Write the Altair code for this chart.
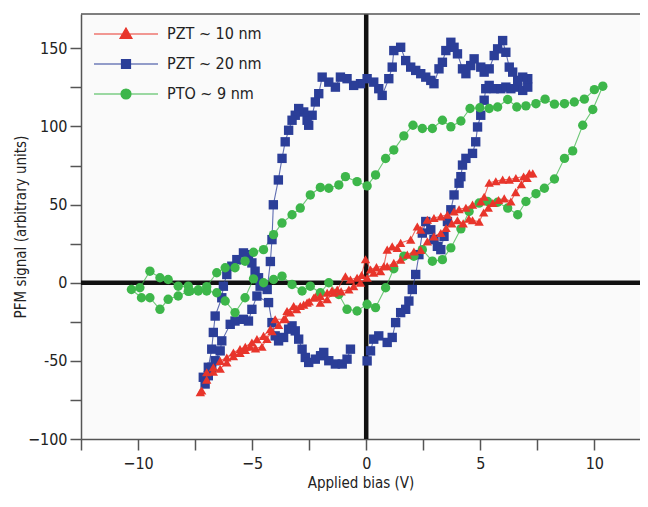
import altair as alt
import pandas as pd

FONT = "Liberation Sans Narrow, DejaVu Sans Condensed, Liberation Sans, sans-serif"

SERIES = ["PZT ~ 10 nm", "PZT ~ 20 nm", "PTO ~ 9 nm"]
MARK_COLORS = ["#e8352b", "#2b3e98", "#3db64a"]
SHAPES = ["triangle-up", "square", "circle"]

X_TICKS = [-12.5, -10, -7.5, -5, -2.5, 0, 2.5, 5, 7.5, 10]
Y_TICKS = [-100, -75, -50, -25, 0, 25, 50, 75, 100, 125, 150]

# PZT ~ 20 nm (bias V, PFM signal)
pzt20 = [
    (0.04, -50), (0.19, -43.6), (0.33, -36.1), (0.55, -34.0), (0.92, -38.2), (1.14, -35.0),
    (1.29, -25.5), (1.51, -19.1), (1.73, -17.0), (1.87, -11.7), (2.02, -4.3), (2.17, 5.3),
    (2.31, 18.0), (2.46, 31.8), (2.61, 39.2), (2.83, 33.9), (2.97, 27.6), (3.12, 23.3),
    (3.27, 21.2), (3.41, 29.7), (3.56, 39.2), (3.71, 46.7), (3.85, 56.2), (4.07, 63.7),
    (4.15, 67.9), (4.22, 75.3), (4.37, 79.6), (4.66, 82.8), (4.80, 90.2), (4.88, 99.7),
    (5.02, 107.2), (5.17, 116.8), (5.24, 124.2), (5.39, 126.3), (5.61, 124.2), (5.90, 124.2),
    (6.12, 125.2), (6.34, 124.2), (6.64, 125.2), (6.86, 123.1), (7.08, 125.2), (7.08, 130.6),
    (6.86, 131.6), (6.64, 129.5), (6.42, 134.8), (6.27, 138.0), (6.12, 147.5), (5.98, 155.0),
    (5.76, 149.7), (5.61, 145.4), (5.39, 136.9), (5.17, 134.8), (5.02, 138.0), (4.73, 143.3),
    (4.58, 139.0), (4.37, 133.8), (4.22, 136.9), (4.00, 146.5), (3.85, 150.7), (3.71, 153.9),
    (3.49, 148.6), (3.34, 141.1), (3.19, 136.9), (2.97, 127.4), (2.83, 129.5), (2.61, 131.6),
    (2.39, 133.8), (2.17, 135.9), (1.95, 138.0), (1.73, 142.2), (1.51, 150.7), (1.21, 148.6),
    (1.14, 138.0), (0.99, 130.6), (0.70, 119.9), (0.55, 124.2), (0.33, 128.4), (0.04, 130.6),
    (-0.25, 127.4), (-0.55, 126.3), (-0.84, 130.6), (-1.13, 131.6), (-1.35, 125.2), (-1.64, 128.4),
    (-1.93, 131.6), (-2.08, 121.0), (-2.23, 115.7), (-2.37, 107.2), (-2.52, 100.8), (-2.59, 104.0),
    (-2.74, 109.3), (-2.96, 111.5), (-3.11, 107.2), (-3.25, 104.0), (-3.40, 97.6), (-3.55, 90.2),
    (-3.69, 79.6), (-3.85, 65.8), (-4.07, 49.9), (-4.13, 27.6), (-4.20, 13.6), (-4.34, -4.3),
    (-4.65, -2.2), (-4.72, 3.2), (-4.87, 7.4), (-5.01, 12.7), (-5.16, 18.0), (-5.38, 19.1),
    (-5.67, 14.8), (-5.89, 10.6), (-6.11, 5.3), (-6.26, -2.2), (-6.33, -9.6), (-6.62, -21.3),
    (-6.70, -31.8), (-6.77, -42.5), (-6.92, -54.1), (-7.14, -60.5), (-7.06, -64.8), (-6.92, -59.5),
    (-6.77, -54.1), (-6.62, -49.9), (-6.40, -43.6), (-6.33, -37.2), (-5.96, -26.6), (-5.75, -24.5),
    (-5.38, -23.4), (-5.16, -24.5), (-5.01, -17.0), (-4.79, -8.5), (-4.28, -12.7), (-4.13, -25.5),
    (-3.99, -34.0), (-3.84, -37.2), (-3.62, -35.0), (-3.40, -29.7), (-3.25, -27.6), (-3.11, -30.8),
    (-2.96, -36.1), (-2.81, -42.5), (-2.67, -47.8), (-2.52, -51.0), (-2.23, -48.9), (-2.00, -46.7),
    (-1.86, -44.6), (-1.64, -49.9), (-1.35, -52.0), (-1.05, -52.0), (-0.84, -48.9), (-0.69, -42.5),
]

# PZT ~ 10 nm
pzt10 = [
    (-7.27, -70), (-6.99, -62), (-6.70, -57), (-6.40, -55), (-6.11, -51), (-5.82, -47),
    (-5.53, -45), (-5.30, -43), (-5.09, -41), (-4.85, -42), (-4.57, -41), (-4.35, -36),
    (-4.13, -31), (-3.84, -27), (-3.55, -23), (-3.33, -19), (-3.05, -17), (-2.74, -14),
    (-2.50, -12), (-2.23, -9), (-2.01, -12.7), (-1.71, -10.6), (-1.42, -6.4), (-1.10, -5.5),
    (-0.76, -4.3), (-0.55, -2.2), (-0.25, 0), (0.04, 3.2), (0.33, 6.4), (0.63, 7.4),
    (0.92, 10.6), (1.21, 12.7), (1.51, 14.8), (1.80, 18), (2.09, 20), (2.39, 21),
    (2.68, 26.5), (2.97, 29.7), (3.27, 31.8), (3.50, 35), (3.75, 38), (4.00, 40),
    (4.25, 38), (4.50, 41), (4.66, 40), (4.95, 39), (5.15, 45), (5.35, 48),
    (5.55, 51), (5.80, 53), (6.05, 54), (6.34, 52), (6.55, 58), (6.80, 63),
    (7.05, 67), (7.30, 70),
    (7.15, 70), (6.90, 68), (6.56, 67), (6.27, 66), (5.98, 66), (5.68, 65),
    (5.39, 64), (5.17, 55), (5.02, 52), (4.66, 50), (4.37, 48), (4.07, 47),
    (3.85, 45.6), (3.56, 43.5), (3.27, 42.5), (2.97, 41.4), (2.68, 40.3), (2.39, 33.9),
    (2.24, 36), (1.95, 27.6), (1.51, 25.5), (1.36, 22.3), (1.14, 23.3), (0.92, 21.2),
    (0.77, 10.6), (0.45, 10), (0.19, 8.5), (-0.03, 15), (-0.20, 5), (-0.40, 3.2),
    (-0.69, 2.1), (-0.91, 4.2), (-1.27, -4.3), (-1.50, -5), (-1.71, -6.4), (-2.01, -8.5),
    (-2.30, -9.6), (-2.59, -12.7), (-2.89, -14.9), (-3.18, -14.9), (-3.47, -18.1), (-3.62, -23.4),
    (-3.99, -23.4), (-4.20, -29.7), (-4.50, -34), (-4.79, -36.1), (-5.01, -38.2), (-5.30, -41),
    (-5.53, -42.5), (-5.82, -44.6), (-6.11, -47.8), (-6.40, -50), (-6.70, -54.1), (-6.99, -57.3),
    (-7.21, -69),
]

# PTO ~ 9 nm
pto9 = [
    (-10.29, -4.3), (-9.85, -9.6), (-9.48, -9.6), (-9.04, -17), (-8.68, -10.6), (-8.24, -8.5),
    (-7.80, -5.5), (-7.36, -5.3), (-6.99, -5.3), (-6.55, -6.4), (-6.18, -11.7), (-5.75, -19.1),
    (-5.31, -9.6), (-4.94, 2.5), (-4.50, 0), (-4.06, 2.1), (-3.69, 4.2), (-3.25, -1.1),
    (-2.81, -5.3), (-2.45, -2.2), (-2.01, -6.4), (-1.64, 0), (-1.20, -7.5), (-0.84, -17),
    (-0.40, -18.1), (0.04, -13.8), (0.41, -15.9), (0.85, -3.2), (1.21, 9), (1.65, 17),
    (2.09, 17), (2.46, 21.2), (2.90, 13.8), (3.34, 14.8), (3.71, 22.3), (4.15, 34.5),
    (4.51, 45.6), (4.95, 51), (5.32, 52), (5.76, 51.5), (6.20, 47.8), (6.64, 43.5),
    (7.00, 52), (7.44, 57), (7.81, 60.5), (8.25, 66.4), (8.69, 79.6), (9.05, 84.4),
    (9.49, 100.8), (9.93, 110.9), (10.37, 125.8),
    (10.00, 123.6), (9.56, 117.5), (9.12, 115.7), (8.69, 114.6), (8.25, 114.3), (7.84, 117.5),
    (7.44, 114.6), (7.00, 113.2), (6.60, 112.5), (6.20, 117.3), (5.76, 112.5), (5.39, 111.5),
    (4.98, 112), (4.55, 111.5), (4.15, 103.5), (3.71, 99.8), (3.34, 104), (2.90, 98.7),
    (2.46, 98.7), (2.05, 100.8), (1.65, 94), (1.21, 85), (0.85, 79.5), (0.41, 69),
    (0.04, 62), (-0.40, 64.7), (-0.91, 67.9), (-1.20, 62.6), (-1.64, 60.5), (-2.01, 61),
    (-2.45, 56.2), (-2.89, 47.8), (-3.25, 43.5), (-3.69, 38.2), (-4.06, 30.8), (-4.50, 21.2),
    (-4.94, 19.5), (-5.31, 13.8), (-5.75, 9.6), (-6.18, 9.6), (-6.55, 6.4), (-6.99, -2.5),
    (-7.36, -4.5), (-7.72, -5.3), (-7.80, -2.2), (-8.24, -2.2), (-8.68, 2.1), (-9.04, 3.2),
    (-9.48, 7.4), (-9.92, -3.2),
]

rows = []
for name, pts in (("PZT ~ 20 nm", pzt20), ("PTO ~ 9 nm", pto9), ("PZT ~ 10 nm", pzt10)):
    for i, (bx, sy) in enumerate(pts):
        rows.append({"bias": bx, "signal": sy, "series": name, "order": i})
df = pd.DataFrame(rows)

W, H = 559, 425
X_DOMAIN = [-12.5, 12.0]
Y_DOMAIN = [-100, 172]

x_axis = alt.Axis(
    values=X_TICKS, labelExpr="datum.value % 5 == 0 ? datum.label : ''",
    tickSize=11, tickWidth=1.5, tickColor="#555", domainColor="#555", domainWidth=1.5,
    grid=False, labelFont=FONT, labelFontSize=16, labelColor="#222", labelPadding=5,
    titleFont=FONT, titleFontSize=15, titleFontWeight="normal", titleColor="#222", titlePadding=4,
    labelFlush=False,
)
y_axis = alt.Axis(
    values=Y_TICKS,
    labelExpr="datum.value == -50 ? '-50' : (datum.value % 50 == 0 ? datum.label : '')",
    tickSize=11, tickWidth=1.5, tickColor="#555", domainColor="#555", domainWidth=1.5,
    grid=False, labelFont=FONT, labelFontSize=16, labelColor="#222", labelPadding=3,
    titleFont=FONT, titleFontSize=15, titleFontWeight="normal", titleColor="#222",
    titleX=-53, titleBaseline="bottom",
    labelFlush=False,
)

xenc = alt.X("bias:Q", title="Applied bias (V)", scale=alt.Scale(domain=X_DOMAIN, nice=False, zero=False), axis=x_axis)
yenc = alt.Y("signal:Q", title="PFM signal (arbitrary units)", scale=alt.Scale(domain=Y_DOMAIN, nice=False, zero=False), axis=y_axis)

shape_expr = (
    "datum.value === 'PZT ~ 10 nm' ? 'M-3.2,0H3.2M0,-0.6L0.6,0.45H-0.6Z' : "
    "(datum.value === 'PZT ~ 20 nm' ? 'M-3.2,0H3.2M-0.45,-0.45H0.45V0.45H-0.45Z' : "
    "'M-3.2,0H3.2M-0.5,0A0.5,0.5,0,1,0,0.5,0A0.5,0.5,0,1,0,-0.5,0Z')"
)
legend = alt.Legend(
    title=None, orient="none", legendX=34, legendY=9, padding=0,
    symbolSize=400, labelOffset=30, rowPadding=11,
    symbolType={"expr": shape_expr},
    symbolFillColor={"expr": "scale('color', datum.value)"},
    symbolStrokeWidth=1.2, symbolOpacity=1,
    labelFont=FONT, labelFontSize=16, labelColor="#222", labelLimit=0,
)
color_scale = alt.Scale(domain=SERIES, range=MARK_COLORS)

zero_df = pd.DataFrame({"bias": [0.0], "signal": [0.0]})

frame_top = alt.Chart(zero_df).mark_rule(color="#555", strokeWidth=1.5).encode(
    x=alt.value(0), x2=alt.value(W), y=alt.value(0)
)
vzero = alt.Chart(zero_df).mark_rule(color="#111", strokeWidth=4.5).encode(x=xenc)
hzero = alt.Chart(zero_df).mark_rule(color="#111", strokeWidth=4.5).encode(y=yenc)

lines = alt.Chart(df).mark_line(strokeWidth=1.1, opacity=0.75).encode(
    x=xenc, y=yenc,
    color=alt.Color("series:N", scale=color_scale, legend=legend),
    detail="series:N",
    order="order:Q",
)

point_layers = []
for name in ("PZT ~ 20 nm", "PTO ~ 9 nm", "PZT ~ 10 nm"):
    k = SERIES.index(name)
    point_layers.append(
        alt.Chart(df).transform_filter(alt.datum.series == name)
        .mark_point(filled=True, size=88, opacity=1, strokeWidth=0,
                    shape=SHAPES[k], fill=MARK_COLORS[k])
        .encode(x=xenc, y=yenc)
    )

chart = alt.layer(vzero, hzero, lines, *point_layers, frame_top).properties(
    width=W, height=H,
    autosize=alt.AutoSizeParams(type="none"),
    padding={"left": 73, "top": 6, "right": 0, "bottom": 54},
    background="white",
).configure_view(stroke=None, fill="#fafafa")

chart.save("out.html", embed_options={"renderer": "svg", "actions": False})
